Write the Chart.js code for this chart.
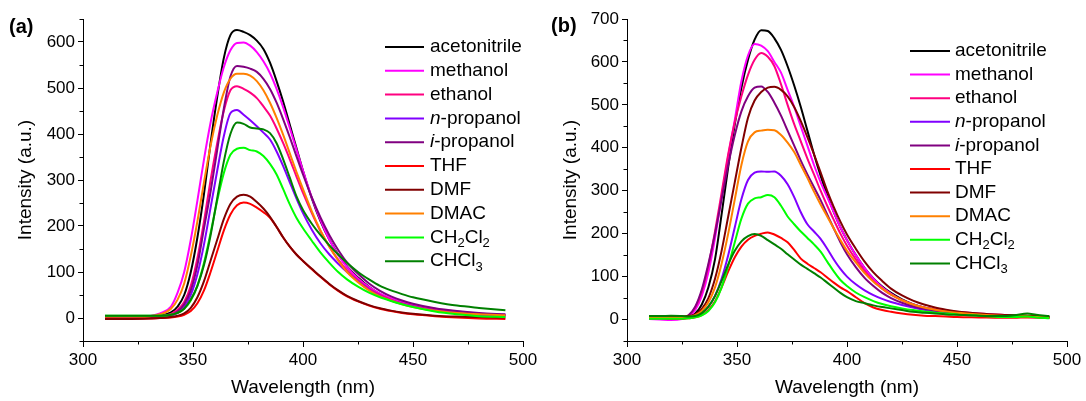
<!DOCTYPE html>
<html><head><meta charset="utf-8">
<script src="https://cdn.jsdelivr.net/npm/chart.js@4.4.0/dist/chart.umd.min.js"></script>
<style>
html,body{margin:0;padding:0;background:#fff;}
#wrap{position:relative;width:1086px;height:401px;overflow:hidden;}
.panel{position:absolute;top:0;height:401px;}
</style></head><body>
<div id="wrap">
<div class="panel" style="left:0;width:545px"><canvas id="ca"></canvas></div>
<div class="panel" style="left:545px;width:541px"><canvas id="cb"></canvas></div>
</div>
<script>
// ---------- data ----------
const solvents = ['acetonitrile','methanol','ethanol','n-propanol','i-propanol','THF','DMF','DMAC','CH2Cl2','CHCl3'];
const colors = ['#000000','#FF00FF','#FF0080','#8000FF','#800080','#FF0000','#800000','#FF8000','#00FF00','#008000'];

const xTickValues = [300,350,400,450,500];
const xMinorValues = [325,375,425,475];
const yTickValuesA = [0,100,200,300,400,500,600];
const yMinorValuesA = [-50,50,150,250,350,450,550,650];
const yTickValuesB = [0,100,200,300,400,500,600,700];
const yMinorValuesB = [-50,50,150,250,350,450,550,650];

// panel (a)
const wlA = [310,320,330,335,340,343,346,349,352,355,358,361,364,367,370,373,376,379,382,385,388,391,394,397,400,404,408,412,416,420,425,430,435,440,445,450,460,470,480,492];
const acetonitrileA = [2,2,3,5,12,25,50,100,175,270,380,480,565,615,626,622,615,603,585,555,515,470,420,370,320,260,210,170,138,112,88,68,52,41,33,27,18,12,8,6];
const methanolA = [2,2,4,10,25,55,100,170,255,345,425,490,545,582,598,599,592,578,558,532,498,458,413,367,320,262,212,170,137,111,86,67,53,43,35,29,20,14,10,7];
const ethanolA = [2,2,3,4,9,18,35,70,130,210,300,380,450,495,504,498,490,478,460,440,412,380,345,308,272,228,188,155,127,104,82,64,50,40,32,26,17,12,8,6];
const nPropanolA = [0,0,1,2,5,11,24,50,95,160,240,320,395,445,452,442,430,417,403,388,362,330,295,260,228,192,162,138,118,100,80,62,48,38,31,25,16,11,7,5];
const iPropanolA = [0,-1,0,2,6,14,30,60,115,195,275,365,455,525,548,546,542,535,520,498,468,432,393,352,312,262,218,180,148,121,96,75,59,47,38,31,21,15,11,8];
const thfA = [-1,-1,-1,0,1,3,7,15,32,60,100,145,190,225,245,251,248,240,230,218,198,175,155,138,124,106,89,73,59,47,36,27,20,15,11,8,4,1,-1,-2];
const dmfA = [-2,-2,-1,0,2,5,10,22,45,80,125,170,215,248,264,268,264,252,238,220,198,175,155,138,124,107,90,74,60,48,37,28,21,16,12,9,5,3,2,1];
const dmacA = [3,3,4,8,20,40,75,135,210,295,375,440,490,520,531,531,527,515,495,468,435,398,358,318,280,232,190,155,125,100,78,60,47,38,30,24,16,11,8,6];
const ch2cl2A = [5,5,5,5,7,11,20,38,70,120,185,255,315,355,368,370,365,362,352,335,312,280,247,218,195,168,142,120,100,84,68,55,45,37,30,24,14,8,4,2];
const chcl3A = [5,5,5,5,7,11,20,40,70,115,180,260,340,400,425,422,414,412,410,402,380,345,305,265,235,205,180,158,138,120,100,84,70,60,52,45,35,27,22,17];

// panel (b)
const wlB = [310,315,320,325,328,331,334,337,340,343,346,349,352,355,358,361,364,367,370,373,376,379,382,385,388,391,394,397,400,404,408,412,416,420,425,430,435,440,445,450,460,470,476,482,486,492];
const acetonitrileB = [5,5,4,4,6,14,35,75,140,245,355,455,540,605,652,674,672,655,628,590,545,495,440,385,335,290,250,215,185,150,120,96,77,62,47,36,28,23,19,16,12,9,8,7,6,4];
const methanolB = [1,0,-1,1,6,22,55,110,190,285,380,465,555,615,642,638,625,600,575,535,495,450,405,360,320,285,250,215,185,150,120,95,75,60,45,35,28,23,19,16,12,9,7,6,5,4];
const ethanolB = [3,3,3,5,10,28,65,125,205,295,385,460,520,570,605,621,612,590,548,500,455,415,375,338,300,265,232,200,172,140,113,90,72,58,45,35,28,24,21,18,14,11,10,9,7,5];
const nPropanolB = [3,3,2,3,5,8,15,30,55,95,150,215,280,325,342,345,344,345,335,315,285,250,222,205,188,165,140,118,100,82,68,57,48,41,34,28,23,19,16,13,10,8,7,7,6,5];
const iPropanolB = [5,4,3,4,10,30,70,130,200,280,360,430,485,520,540,543,530,505,475,440,405,370,338,308,278,245,212,180,152,122,97,78,62,50,39,31,25,21,18,15,11,9,8,8,7,6];
const thfB = [3,3,2,2,3,5,10,22,42,75,112,145,170,186,195,200,203,198,190,180,162,142,130,120,110,98,86,75,66,52,38,28,22,18,14,11,9,8,7,6,5,4,4,5,5,4];
const dmfB = [8,8,7,7,8,12,25,50,95,160,240,320,400,470,510,530,540,542,535,520,495,462,425,385,343,300,262,228,198,165,135,110,90,72,56,44,35,28,23,19,14,11,10,9,8,6];
const dmacB = [5,5,4,4,6,10,20,40,75,130,200,280,360,415,436,440,442,441,430,412,390,360,330,298,268,240,212,185,160,133,108,88,72,58,45,35,28,23,19,16,12,9,8,7,6,5];
const ch2cl2B = [2,2,2,2,3,5,10,20,40,75,125,180,235,270,282,285,290,285,265,240,222,205,190,175,158,135,112,92,78,63,52,43,36,31,26,22,19,16,14,12,9,6,6,7,5,3];
const chcl3B = [8,8,9,8,7,8,15,30,55,90,128,160,182,194,199,195,185,175,165,152,140,128,118,108,98,86,74,62,52,43,38,33,29,26,22,18,16,14,12,11,9,8,10,14,11,8];

const seriesA = [acetonitrileA,methanolA,ethanolA,nPropanolA,iPropanolA,thfA,dmfA,dmacA,ch2cl2A,chcl3A];
const seriesB = [acetonitrileB,methanolB,ethanolB,nPropanolB,iPropanolB,thfB,dmfB,dmacB,ch2cl2B,chcl3B];

// ---------- rendering ----------
const FONT = "'Liberation Sans', Arial, Helvetica, sans-serif";
Chart.defaults.font.family = FONT;
Chart.defaults.color = '#000';

function labelSegments(label){
  const m = label.match(/^([ni])(-.*)$/);
  if (m) return [{t:m[1], it:true},{t:m[2]}];
  const segs = [];
  label.split(/(\d+)/).forEach(p=>{ if(!p) return; segs.push(/^\d+$/.test(p)?{t:p,sub:true}:{t:p}); });
  return segs;
}

const legendPlugin = {
  id:'richLegend',
  afterDraw(chart, args, o){
    const ctx = chart.ctx;
    ctx.save();
    chart.data.datasets.forEach((ds,i)=>{
      const y = o.y0 + o.dy*i;
      ctx.strokeStyle = ds.borderColor; ctx.lineWidth = 2;
      ctx.beginPath(); ctx.moveTo(o.x1, y); ctx.lineTo(o.x2, y); ctx.stroke();
      let x = o.tx;
      ctx.fillStyle = '#000'; ctx.textBaseline = 'middle'; ctx.textAlign = 'left';
      labelSegments(ds.label).forEach(s=>{
        if (s.sub){ ctx.font = `${Math.round(o.size*0.66)}px ${FONT}`; ctx.fillText(s.t, x, y+6); }
        else { ctx.font = `${s.it?'italic ':''}${o.size}px ${FONT}`; ctx.fillText(s.t, x, y); }
        x += ctx.measureText(s.t).width;
      });
    });
    ctx.font = `bold 20px ${FONT}`; ctx.textBaseline='middle'; ctx.fillStyle='#000';
    ctx.fillText(o.panel, o.px, o.py);
    ctx.restore();
  }
};

const minorTickPlugin = {
  id:'minorTicks',
  afterDraw(chart, args, o){
    const ctx = chart.ctx, xs = chart.scales.x, ys = chart.scales.y, a = chart.chartArea;
    ctx.save(); ctx.strokeStyle='#000'; ctx.lineWidth=1;
    ctx.beginPath();
    o.x.forEach(v=>{ const p = Math.round(xs.getPixelForValue(v))+0.5; ctx.moveTo(p, a.bottom); ctx.lineTo(p, a.bottom+3.5); });
    o.y.forEach(v=>{ const p = Math.round(ys.getPixelForValue(v))+0.5; ctx.moveTo(a.left, p); ctx.lineTo(a.left-3.5, p); });
    ctx.stroke(); ctx.restore();
  }
};

function makeChart(id, wl, series, cfg){
  const datasets = series.map((s,i)=>({
    label: solvents[i],
    data: wl.map((w,k)=>({x:w, y:s[k]})),
    borderColor: colors[i], backgroundColor: colors[i],
    borderWidth: 2, pointRadius: 0, fill:false,
    cubicInterpolationMode:'monotone', order: 10 - i
  }));
  return new Chart(document.getElementById(id), {
    type:'line',
    data:{datasets},
    options:{
      responsive:true, maintainAspectRatio:false, animation:false,
      layout:{padding:{left:0, right:cfg.padRight, top:cfg.padTop, bottom:0}},
      plugins:{
        legend:{display:false}, tooltip:{enabled:false},
        richLegend: cfg.legend,
        minorTicks:{x:xMinorValues, y:cfg.yMinor}
      },
      scales:{
        x:{
          type:'linear', min:300, max:500,
          afterBuildTicks: sc => { sc.ticks = xTickValues.map(v=>({value:v})); },
          afterFit: sc => { sc.height = 60; },
          grid:{display:true, drawOnChartArea:false, drawTicks:true, tickLength:6, tickColor:'#000', tickWidth:1},
          border:{display:true, color:'#000', width:1},
          ticks:{font:{size:17}, padding:3, maxRotation:0, autoSkip:false, color:'#000'},
          title:{display:true, text:'Wavelength (nm)', font:{size:19}, padding:{top:0,bottom:2}, color:'#000'}
        },
        y:{
          type:'linear', min:-50, max:cfg.yMax,
          afterBuildTicks: sc => { sc.ticks = cfg.yTicks.map(v=>({value:v})); },
          afterFit: sc => { sc.width = cfg.axisX; },
          grid:{display:true, drawOnChartArea:false, drawTicks:true, tickLength:5, tickColor:'#000', tickWidth:1},
          border:{display:true, color:'#000', width:1},
          ticks:{font:{size:17}, padding:3, autoSkip:false, color:'#000'},
          title:{display:true, text:'Intensity (a.u.)', font:{size:19}, padding:{top:14,bottom:0}, color:'#000'}
        }
      }
    },
    plugins:[legendPlugin, minorTickPlugin]
  });
}

makeChart('ca', wlA, seriesA, {
  padRight:22, padTop:19, yMax:650, yTicks:yTickValuesA, yMinor:yMinorValuesA, axisX:83,
  legend:{x1:385, x2:424, tx:430, y0:47, dy:23.8, size:19, panel:'(a)', px:9, py:27}
});
makeChart('cb', wlB, seriesB, {
  padRight:19, padTop:19, yMax:700, yTicks:yTickValuesB, yMinor:yMinorValuesB, axisX:82,
  legend:{x1:365, x2:405, tx:410, y0:51, dy:23.6, size:19, panel:'(b)', px:6, py:26}
});
</script>
</body></html>
